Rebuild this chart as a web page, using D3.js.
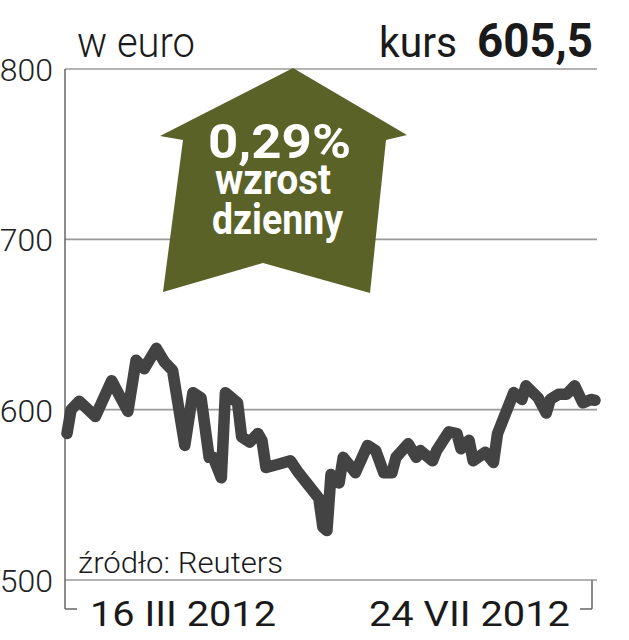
<!DOCTYPE html>
<html><head><meta charset="utf-8">
<script src="https://cdn.jsdelivr.net/npm/d3@7"></script>
<style>
html,body{margin:0;padding:0;background:#fff;}
svg{display:block;}
text{font-family:Roboto,"Liberation Sans",sans-serif;}
</style></head>
<body>
<script>
// Data: day offset from 16 III 2012, closing price in EUR
const startDate = new Date(2012, 2, 16);
const dayOffsets = [0,1,3,7,11,15,17,19,22,24,26,29,31,33,35,36,38,39,42,43,45,47,48,49,52,55,57,59,62,63,64,65,67,68,71,74,76,78,80,81,84,86,87,90,91,94,96,97,99,100,103,105,106,108,110,112,113,116,118,119,121,123,125,127,129,130];
const prices = [586,600,605,596,617,599,629,624,636,628,623,579,610,607,572,572,560,610,604,584,581,586,582,566,568,570,563,557,548,531,529,562,557,572,563,579,576,563,563,572,580,572,576,570,576,587,586,577,582,570,575,569,586,598,610,606,614,607,598,606,609,609,614,604,606,605.5];
const yTicks = [500,600,700,800];
const xLabels = ["16 III 2012","24 VII 2012"];
const unitLabel = "w euro";
const priceLabel = "kurs";
const priceValue = "605,5";
const changeLines = ["0,29%","wzrost","dzienny"];
const sourceLabel = "źródło: Reuters";

const W = 629, H = 640;
const svg = d3.select("body").append("svg").attr("width", W).attr("height", H);

const data = dayOffsets.map((d, i) => ({date: d3.timeDay.offset(startDate, d), v: prices[i]}));

const x = d3.scaleTime()
  .domain([startDate, d3.timeDay.offset(startDate, 130)])
  .range([67, 595]);
const y = d3.scaleLinear().domain([500, 800]).range([580, 69]);

// gridlines
svg.append("g").selectAll("line").data(yTicks).join("line")
  .attr("x1", 65).attr("x2", 597)
  .attr("y1", d => y(d)).attr("y2", d => y(d))
  .attr("stroke", "#9a9a9a").attr("stroke-width", 1.6);

// vertical axis line + bottom brackets
svg.append("line").attr("x1", 65).attr("x2", 65).attr("y1", y(800)).attr("y2", 609)
  .attr("stroke", "#666").attr("stroke-width", 1.5);
svg.append("line").attr("x1", 65).attr("x2", 77).attr("y1", 609).attr("y2", 609)
  .attr("stroke", "#666").attr("stroke-width", 1.5);
svg.append("line").attr("x1", 592).attr("x2", 592).attr("y1", y(500)).attr("y2", 609)
  .attr("stroke", "#666").attr("stroke-width", 1.5);
svg.append("line").attr("x1", 580).attr("x2", 592).attr("y1", 609).attr("y2", 609)
  .attr("stroke", "#666").attr("stroke-width", 1.5);

// y axis labels
const yAxis = svg.append("g").attr("transform", "translate(53,0)")
  .call(d3.axisLeft(y).tickValues(yTicks).tickSize(0).tickPadding(0).tickFormat(d3.format("d")));
yAxis.select(".domain").remove();
yAxis.selectAll("text")
  .attr("font-family", "Roboto, sans-serif")
  .attr("font-size", 32).attr("font-weight", 300).attr("fill", "#222")
  .attr("dy", "0.36em");

// price line
const line = d3.line().x(d => x(d.date)).y(d => y(d.v));
svg.append("path").datum(data).attr("d", line)
  .attr("fill", "none").attr("stroke", "#434343").attr("stroke-width", 11.5)
  .attr("stroke-linejoin", "round").attr("stroke-linecap", "round");

// arrow
const arrowPts = [[293,68],[407,135],[386,140],[370,293],[263,263],[163,292],[183,140],[160,136]];
svg.append("path").attr("d", "M" + arrowPts.map(p => p.join(",")).join("L") + "Z")
  .attr("fill", "#5a6227");

const aTxt = [
  {t: changeLines[0], x: 208, y: 158, s: 48, len: 143},
  {t: changeLines[1], x: 215, y: 194, s: 42, len: 116},
  {t: changeLines[2], x: 212, y: 234, s: 42, len: 131}
];
svg.append("g").selectAll("text").data(aTxt).join("text")
  .attr("x", d => d.x).attr("y", d => d.y).attr("font-size", d => d.s)
  .attr("font-weight", 700).attr("fill", "#fff")
  .attr("textLength", d => d.len).attr("lengthAdjust", "spacingAndGlyphs")
  .text(d => d.t);

// header texts
svg.append("text").attr("x", 77).attr("y", 57).attr("font-size", 42).attr("font-weight", 300)
  .attr("fill", "#1a1a1a").attr("textLength", 118).attr("lengthAdjust", "spacingAndGlyphs").text(unitLabel);
svg.append("text").attr("x", 379).attr("y", 57).attr("font-size", 42).attr("font-weight", 400)
  .attr("fill", "#1a1a1a").attr("textLength", 78).attr("lengthAdjust", "spacingAndGlyphs").text(priceLabel);
svg.append("text").attr("x", 477).attr("y", 57).attr("font-size", 48).attr("font-weight", 700)
  .attr("fill", "#1a1a1a").attr("textLength", 116).attr("lengthAdjust", "spacingAndGlyphs").text(priceValue);

// source
svg.append("text").attr("x", 78).attr("y", 573).attr("font-size", 30).attr("font-weight", 300)
  .attr("fill", "#1a1a1a").attr("textLength", 205).attr("lengthAdjust", "spacingAndGlyphs").text(sourceLabel);

// x labels
svg.append("text").attr("x", 90).attr("y", 626).attr("font-size", 35).attr("font-weight", 400)
  .attr("fill", "#1a1a1a").attr("textLength", 186).attr("lengthAdjust", "spacingAndGlyphs").text(xLabels[0]);
svg.append("text").attr("x", 369).attr("y", 626).attr("font-size", 35).attr("font-weight", 400)
  .attr("fill", "#1a1a1a").attr("textLength", 201).attr("lengthAdjust", "spacingAndGlyphs").text(xLabels[1]);
</script>
</body></html>
